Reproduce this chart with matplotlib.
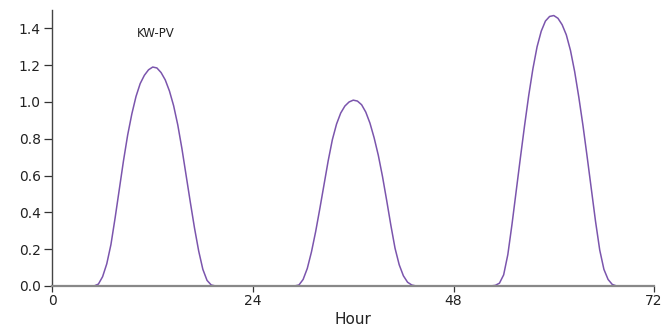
import numpy as np
import matplotlib
matplotlib.use("Agg")
import matplotlib.pyplot as plt

# PV output (kW), read every half hour, one list per day (hour 0.0 .. 23.5)
pv_day1 = [0, 0, 0, 0, 0, 0, 0, 0, 0, 0,
           0, 0.01, 0.05, 0.12, 0.225, 0.37, 0.525, 0.68, 0.82, 0.935,
           1.03, 1.10, 1.145, 1.175, 1.19, 1.185, 1.16, 1.12, 1.06, 0.98,
           0.875, 0.745, 0.60, 0.455, 0.315, 0.19, 0.09, 0.03, 0.005, 0,
           0, 0, 0, 0, 0, 0, 0, 0]
pv_day2 = [0, 0, 0, 0, 0, 0, 0, 0, 0, 0,
           0, 0.005, 0.035, 0.095, 0.185, 0.295, 0.42, 0.55, 0.68, 0.795,
           0.88, 0.94, 0.978, 1.0, 1.01, 1.005, 0.985, 0.945, 0.885, 0.805,
           0.71, 0.595, 0.465, 0.33, 0.205, 0.115, 0.055, 0.02, 0.005, 0,
           0, 0, 0, 0, 0, 0, 0, 0]
pv_day3 = [0, 0, 0, 0, 0, 0, 0, 0, 0,
           0, 0.003, 0.015, 0.06, 0.17, 0.335, 0.515, 0.695, 0.87, 1.035,
           1.18, 1.30, 1.385, 1.44, 1.465, 1.47, 1.455, 1.42, 1.365, 1.28,
           1.165, 1.025, 0.87, 0.70, 0.525, 0.35, 0.195, 0.09, 0.035, 0.008, 0,
           0, 0, 0, 0, 0, 0, 0, 0]
pv_end = [0]

x_ticks = [0, 24, 48, 72]
y_ticks = [0.0, 0.2, 0.4, 0.6, 0.8, 1.0, 1.2, 1.4]

kw_pv = pv_day1 + pv_day2 + pv_day3 + pv_end
hours = np.arange(len(kw_pv)) * 0.5

plt.rcParams['font.family'] = ['DejaVu Sans']

fig = plt.figure(figsize=(6.64, 3.34), dpi=100)
ax = fig.add_axes([0.079, 0.144, 0.906, 0.826])

ax.plot(hours, kw_pv, color='#7b55ad', linewidth=1.1)
ax.text(12.4, 1.375, 'KW-PV', fontsize=8.5, color='#222222',
        ha='center', va='center')

ax.set_xlim(0, 72)
ax.set_ylim(0, 1.5)
ax.set_xticks(x_ticks)
ax.set_yticks(y_ticks)
ax.set_yticklabels(['%.1f' % v for v in y_ticks])

for side in ['top', 'right']:
    ax.spines[side].set_visible(False)
ax.spines['left'].set_color('#444444')
ax.spines['left'].set_linewidth(1.0)
ax.spines['bottom'].set_color('#888888')
ax.spines['bottom'].set_linewidth(1.6)

ax.tick_params(axis='y', direction='out', length=5.5, width=0.9,
               color='#333333', labelsize=10, labelcolor='#222222', pad=3)
ax.tick_params(axis='x', direction='out', length=4, width=0.9,
               color='#333333', labelsize=10, labelcolor='#222222', pad=2)

ax.set_xlabel('Hour', fontsize=11, color='#222222', labelpad=3)

fig.savefig('out.png', dpi=100)
